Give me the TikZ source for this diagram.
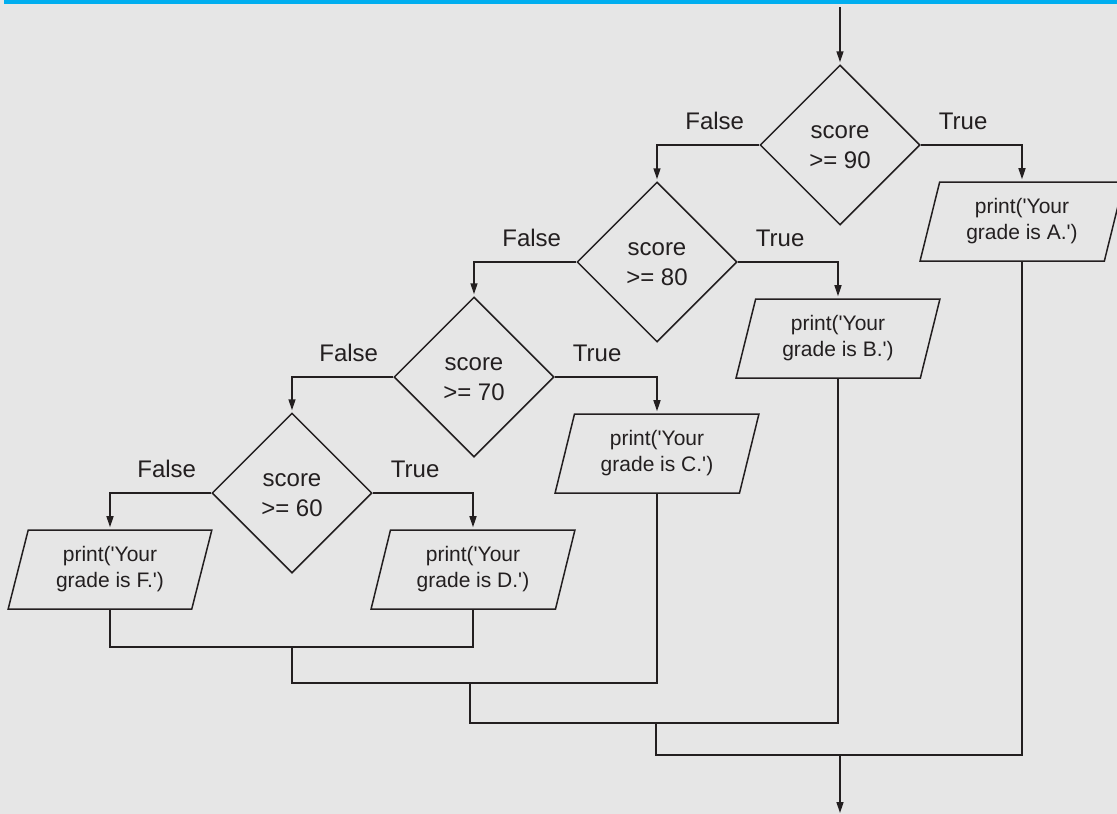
\documentclass[tikz,border=0pt]{standalone}
\usepackage{fontspec}
\newfontfamily\arial{Liberation Sans}
\usetikzlibrary{shapes.geometric,arrows.meta}
\definecolor{bg}{HTML}{E6E6E6}
\definecolor{bar}{HTML}{00AEEF}
\definecolor{ink}{HTML}{231F20}
\newcommand\dnline[1]{\raisebox{-2.5pt}[\height][\depth]{#1}}
\begin{document}
\begin{tikzpicture}[x=1pt,y=-1pt,
  dec/.style={diamond, draw=ink, line width=1.5pt, minimum width=160pt, minimum height=160pt,
    inner sep=0pt, align=center, text=ink, font=\arial\fontsize{24}{30}\selectfont},
  outbox/.style={trapezium, trapezium left angle=73.8, trapezium right angle=106.2,
    trapezium stretches=true, minimum width=204pt, minimum height=79pt, draw=ink,
    line width=1.5pt, inner sep=0pt, align=center, text=ink, font=\arial\fontsize{21}{26}\selectfont},
  lbl/.style={inner sep=0pt, text=ink, font=\arial\fontsize{24}{30}\selectfont},
  flow/.style={draw=ink, line width=1.5pt},
  arr/.style={flow, -{Triangle[length=11pt,width=7pt]}, shorten >=2pt},
]
\useasboundingbox (0,0) rectangle (1117,814);
\clip (0,0) rectangle (1117,814);
\fill[bg] (0,0) rectangle (1117,814);
\fill[bar] (4,0) rectangle (1117,3.5);

\node[dec] (d90) at (840,145) {\dnline{score}\\\dnline{>= 90}};
\node[dec] (d80) at (657,262) {\dnline{score}\\\dnline{>= 80}};
\node[dec] (d70) at (474,377) {\dnline{score}\\\dnline{>= 70}};
\node[dec] (d60) at (292,493) {\dnline{score}\\\dnline{>= 60}};

\node[outbox] (pA) at (1022,221.5) {print('Your\\grade is A.')};
\node[outbox] (pB) at (838,338.5) {print('Your\\grade is B.')};
\node[outbox] (pC) at (657,453.5) {print('Your\\grade is C.')};
\node[outbox] (pD) at (473,569.5) {print('Your\\grade is D.')};
\node[outbox] (pF) at (110,569.5) {print('Your\\grade is F.')};

\foreach \d in {d90,d80,d70,d60}{
  \node[lbl, anchor=base east] (\d f) at ([xshift=-15pt,yshift=16pt]\d.west) {False};
  \node[lbl, anchor=base west] (\d t) at ([xshift=18pt,yshift=16pt]\d.east) {True};
}

\coordinate (start) at (840,7);
\coordinate (m1) at (292,647);
\coordinate (m2) at (470,683);
\coordinate (m3) at (656,723);
\coordinate (m4) at (840,755);
\coordinate (end) at (840,813);

\draw[arr] (start) -- (d90.north);
\draw[arr] (d90.west) -| (d80.north);
\draw[arr] (d90.east) -| (pA.north);
\draw[arr] (d80.west) -| (d70.north);
\draw[arr] (d80.east) -| (pB.north);
\draw[arr] (d70.west) -| (d60.north);
\draw[arr] (d70.east) -| (pC.north);
\draw[arr] (d60.west) -| (pF.north);
\draw[arr] (d60.east) -| (pD.north);

\draw[flow] (pF.south) |- (m1) -| (pD.south);
\draw[flow] (m1) |- (m2) -| (pC.south);
\draw[flow] (m2) |- (m3) -| (pB.south);
\draw[flow] (m3) |- (m4) -| (pA.south);
\draw[flow, -{Triangle[length=11pt,width=7pt]}] (m4) -- (end);
\end{tikzpicture}
\end{document}
